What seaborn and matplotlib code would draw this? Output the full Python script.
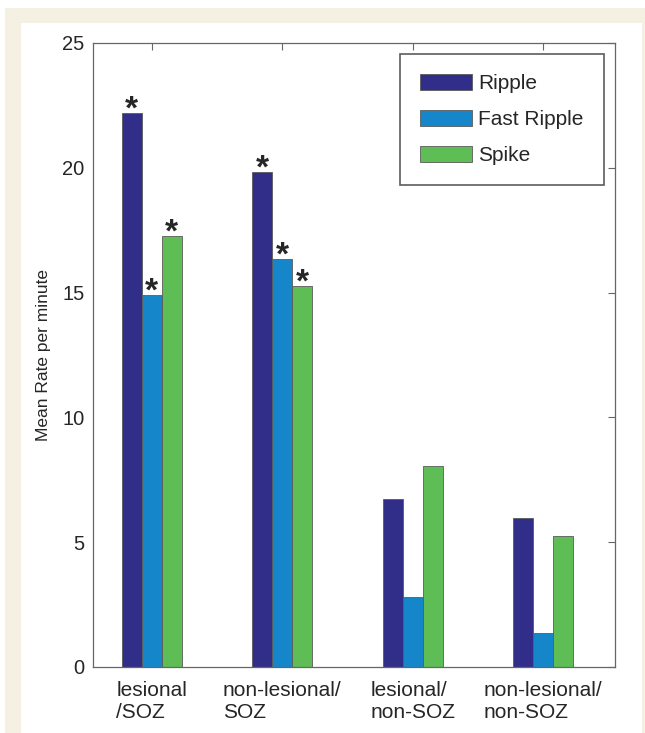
import numpy as np
import pandas as pd
import matplotlib
matplotlib.use("Agg")
import matplotlib.pyplot as plt
import matplotlib.patches as mpatches
import seaborn as sns

GROUPS = ["lesional\n/SOZ", "non-lesional/\nSOZ", "lesional/\nnon-SOZ", "non-lesional/\nnon-SOZ"]
SERIES = ["Ripple", "Fast Ripple", "Spike"]

ripple = [22.2, 19.85, 6.75, 5.95]
fast_ripple = [14.9, 16.35, 2.8, 1.38]
spike = [17.25, 15.25, 8.05, 5.25]
significant = [True, True, False, False]

COLORS = ["#302e88", "#1686cb", "#5fbd55"]

df = pd.DataFrame({
    "group": GROUPS * 3,
    "type": np.repeat(SERIES, len(GROUPS)),
    "rate": ripple + fast_ripple + spike,
})

sns.set_style("white")
plt.rcParams["font.family"] = ["Liberation Sans", "DejaVu Sans"]

fig = plt.figure(figsize=(6.45, 7.33), dpi=100)
fig.patch.set_facecolor("white")

# cream frame around a white panel
W, H = 645, 733
fig.patches.append(mpatches.Rectangle((5 / W, 0), 1, 1 - 8 / H, transform=fig.transFigure,
                                      facecolor="#f4f0e2", edgecolor="none", zorder=-10))
fig.patches.append(mpatches.Rectangle((21 / W, 0), (642 - 21) / W, 1 - 23 / H,
                                      transform=fig.transFigure, facecolor="white",
                                      edgecolor="none", zorder=-9))

ax = fig.add_axes([93 / W, 1 - 667 / H, (615 - 93) / W, (667 - 43) / H])
ax.patch.set_alpha(0)

sns.barplot(data=df, x="group", y="rate", hue="type", hue_order=SERIES,
            palette=COLORS, saturation=1, width=0.46, gap=0,
            edgecolor="#5a5a5a", linewidth=0.6, ax=ax)

for cont in ax.containers:
    for bar, sig in zip(cont, significant):
        if sig:
            ax.annotate("*", (bar.get_x() + bar.get_width() / 2, bar.get_height()),
                        xytext=(0, -4), textcoords="offset points",
                        ha="center", va="baseline", fontsize=24, fontweight="bold")

ax.set_xlim(-0.45, 3.55)
ax.set_ylim(0, 25)
ax.set_yticks([0, 5, 10, 15, 20, 25])
ax.set_xlabel("")
ax.set_ylabel("Mean Rate per minute", fontsize=12.5, labelpad=8)
ax.set_axisbelow(True)

ax.tick_params(axis="both", direction="in", length=5, width=0.8, color="#666666",
               top=True, right=True)
ax.tick_params(axis="y", labelsize=14.5, pad=6)
ax.tick_params(axis="x", labelsize=15, pad=10, bottom=False)
for lab in ax.get_xticklabels():
    lab.set_multialignment("left")

for sp in ax.spines.values():
    sp.set_color("#666666")
    sp.set_linewidth(0.9)

handles = [mpatches.Patch(facecolor=c, edgecolor="#5a5a5a", linewidth=0.6) for c in COLORS]
leg = ax.legend(handles, SERIES, loc="upper right", fontsize=15, frameon=True,
                fancybox=False, edgecolor="#333333", handlelength=2.5, handleheight=0.8,
                handletextpad=0.3, labelspacing=0.8, borderpad=0.95, borderaxespad=0.55)
leg.get_frame().set_linewidth(1.2)

fig.savefig("out.png", dpi=100)
